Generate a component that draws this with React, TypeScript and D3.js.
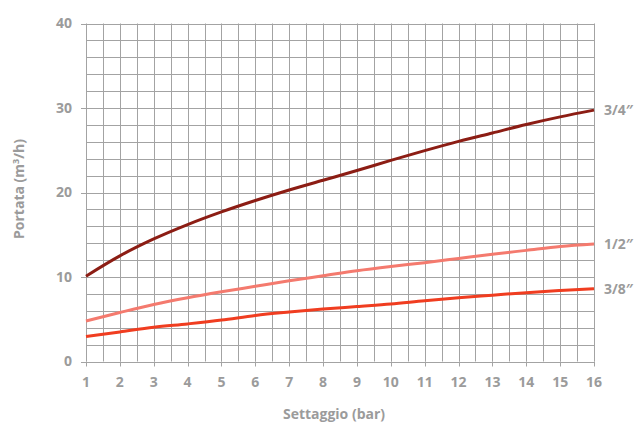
import React from "react";
import * as d3 from "d3";

const pressures = [1, 2, 3, 4, 5, 6, 7, 8, 9, 10, 11, 12, 13, 14, 15, 16];
const flow34 = [10.1, 12.5, 14.5, 16.2, 17.7, 19.05, 20.3, 21.45, 22.6, 23.8, 24.95, 26.05, 27.05, 28.05, 28.95, 29.75];
const flow12 = [4.8, 5.8, 6.75, 7.55, 8.25, 8.9, 9.55, 10.15, 10.75, 11.25, 11.7, 12.2, 12.7, 13.15, 13.6, 13.9];
const flow38 = [2.95, 3.5, 4.05, 4.45, 4.9, 5.45, 5.85, 6.2, 6.5, 6.8, 7.2, 7.55, 7.85, 8.15, 8.4, 8.62];
const seriesNames = ["3/4\u2033", "1/2\u2033", "3/8\u2033"];
const yTicks = [0, 10, 20, 30, 40];
const xTitle = "Settaggio (bar)";

const colors = ["#8c1d14", "#f47a6e", "#f03d20"];
const textColor = "#9b9b9b";
const font = "'Open Sans', 'Noto Sans', sans-serif";

export default function App() {
  const W = 635, H = 426;
  const x = d3.scaleLinear().domain([1, 16]).range([86, 594]);
  const y = d3.scaleLinear().domain([0, 40]).range([361.5, 23.5]);
  const vGrid = d3.range(1, 16.01, 0.5);
  const hGrid = d3.range(0, 40.01, 2);
  const all = [flow34, flow12, flow38];
  const line = d3
    .line<number>()
    .x((_, i) => x(pressures[i]))
    .y((d) => y(d))
    .curve(d3.curveMonotoneX);

  return (
    <svg width={W} height={H} style={{ position: "absolute", left: 0, top: 0, background: "#fff" }}>
      <g>
        {vGrid.map((v) => (
          <line key={"v" + v} x1={Math.round(x(v)) + 0.5} x2={Math.round(x(v)) + 0.5} y1={y(40)} y2={y(0)} stroke="#a3a3a3" strokeWidth={1} />
        ))}
        {hGrid.map((v) => (
          <line key={"h" + v} x1={x(1)} x2={x(16) + 0.5} y1={Math.round(y(v)) + 0.5} y2={Math.round(y(v)) + 0.5} stroke="#a3a3a3" strokeWidth={1} />
        ))}
        {yTicks.map((v) => (
          <g key={"yt" + v}>
            <line x1={x(1) - 5} x2={x(1)} y1={Math.round(y(v)) + 0.5} y2={Math.round(y(v)) + 0.5} stroke="#a3a3a3" />
            <text x={72} y={y(v)} dy="0.35em" textAnchor="end" fill={textColor} fontFamily={font} fontWeight={700} fontSize={14}>
              {v}
            </text>
          </g>
        ))}
        {pressures.map((v) => (
          <g key={"xt" + v}>
            <line x1={Math.round(x(v)) + 0.5} x2={Math.round(x(v)) + 0.5} y1={y(0)} y2={y(0) + 5} stroke="#a3a3a3" />
            <text x={x(v)} y={382} dy="0.35em" textAnchor="middle" fill={textColor} fontFamily={font} fontWeight={700} fontSize={14}>
              {v}
            </text>
          </g>
        ))}
      </g>
      {all.map((s, i) => (
        <g key={"s" + i}>
          <path d={line(s) || ""} fill="none" stroke={colors[i]} strokeWidth={3} />
          <text x={x(16) + 10} y={y(s[s.length - 1])} dy="0.35em" fill={textColor} fontFamily={font} fontWeight={700} fontSize={14}>
            {seriesNames[i]}
          </text>
        </g>
      ))}
      <text x={334} y={419} textAnchor="middle" fill={textColor} fontFamily={font} fontWeight={700} fontSize={14}>
        {xTitle}
      </text>
      <text transform="translate(24,189) rotate(-90)" textAnchor="middle" fill={textColor} fontFamily={font} fontWeight={700} fontSize={14}>
        Portata (m<tspan dy="-5" fontSize={9}>3</tspan><tspan dy="5">/h)</tspan>
      </text>
    </svg>
  );
}
